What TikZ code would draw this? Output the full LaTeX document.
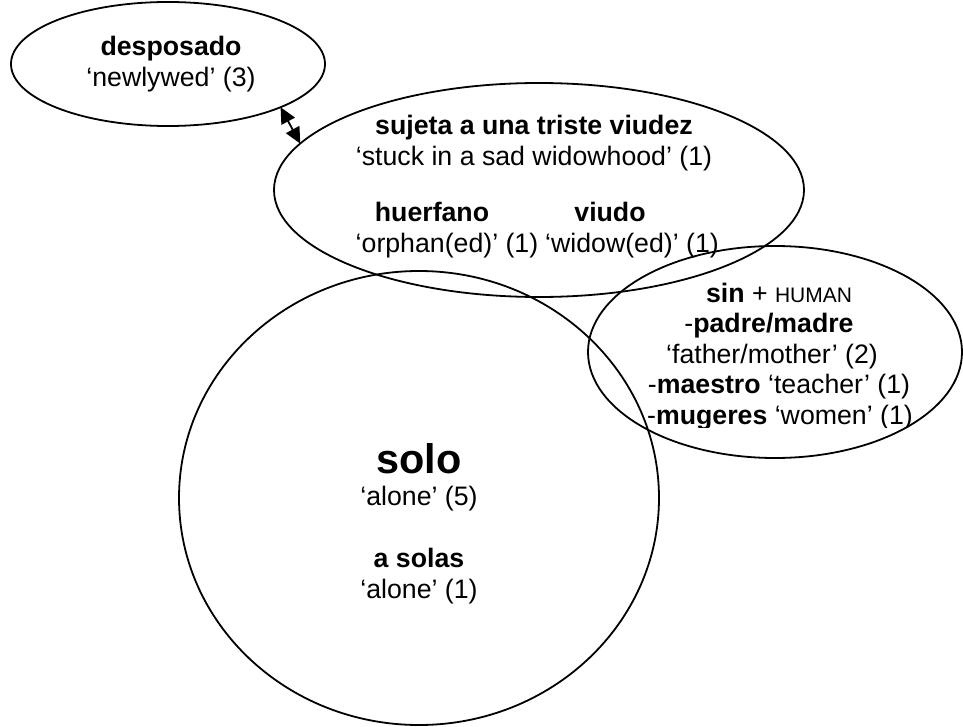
\documentclass[tikz,border=0pt]{standalone}
\usepackage{fontspec}
\setmainfont{Liberation Sans}
\usetikzlibrary{shapes.geometric,arrows.meta}
\begin{document}
\begin{tikzpicture}[x=0.5pt,y=-0.5pt,
  blob/.style={ellipse, draw, line width=0.9pt, inner sep=0pt, outer sep=0pt},
  txt/.style={anchor=base, inner sep=0pt, font=\fontsize{13.35}{15}\selectfont},
  big/.style={anchor=base, inner sep=0pt, font=\fontsize{20.7}{24}\selectfont\bfseries},
  dblarrow/.style={line width=0.9pt, {Triangle[length=8pt,width=7.5pt]}-{Triangle[length=8pt,width=7.5pt]}}]
\useasboundingbox (0,0) rectangle (963,727);
% ellipses
\node[blob, minimum width=157pt, minimum height=62pt] (D) at (168,64) {};
\node[blob, minimum width=265pt, minimum height=107pt] (S) at (539,190) {};
\node[blob, minimum width=240pt, minimum height=227pt] (O) at (419,498) {};
\node[blob, minimum width=187pt, minimum height=106pt] (H) at (775,352) {};
% connector
\draw[dblarrow] (D.-21.5) -- (S.169.5);
% desposado
\node[txt] (d1) at (171,56) {\textbf{desposado}};
\node[txt] (d2) at (171,87) {‘newlywed’ (3)};
% sujeta
\node[txt] (s1) at (534,135) {\textbf{sujeta a una triste viudez}};
\node[txt] (s2) at (534,166) {‘stuck in a sad widowhood’ (1)};
\node[txt] (s3) at (432,222) {\textbf{huerfano}};
\node[txt] (s4) at (610,222) {\textbf{viudo}};
\node[txt] (s5) at (447,253) {‘orphan(ed)’ (1)};
\node[txt] (s6) at (632,253) {‘widow(ed)’ (1)};
% solo
\node[big] (o1) at (419,473) {solo};
\node[txt] (o2) at (419,505) {‘alone’ (5)};
\node[txt] (o3) at (419,567) {\textbf{a solas}};
\node[txt] (o4) at (419,598) {‘alone’ (1)};
% sin + HUMAN
\node[txt] (h1) at (779,302) {\textbf{sin} + {\fontsize{10.5}{12}\selectfont HUMAN}};
\node[txt] (h2) at (769,332.5) {-\textbf{padre/madre}};
\node[txt] (h3) at (772,363) {‘father/mother’ (2)};
\node[txt] (h4) at (779,393.5) {-\textbf{maestro} ‘teacher’ (1)};
\begin{scope}
\clip (560,230) rectangle (963,427);
\node[txt] (h5) at (780,424) {-\textbf{mugeres} ‘women’ (1)};
\end{scope}
\end{tikzpicture}
\end{document}
